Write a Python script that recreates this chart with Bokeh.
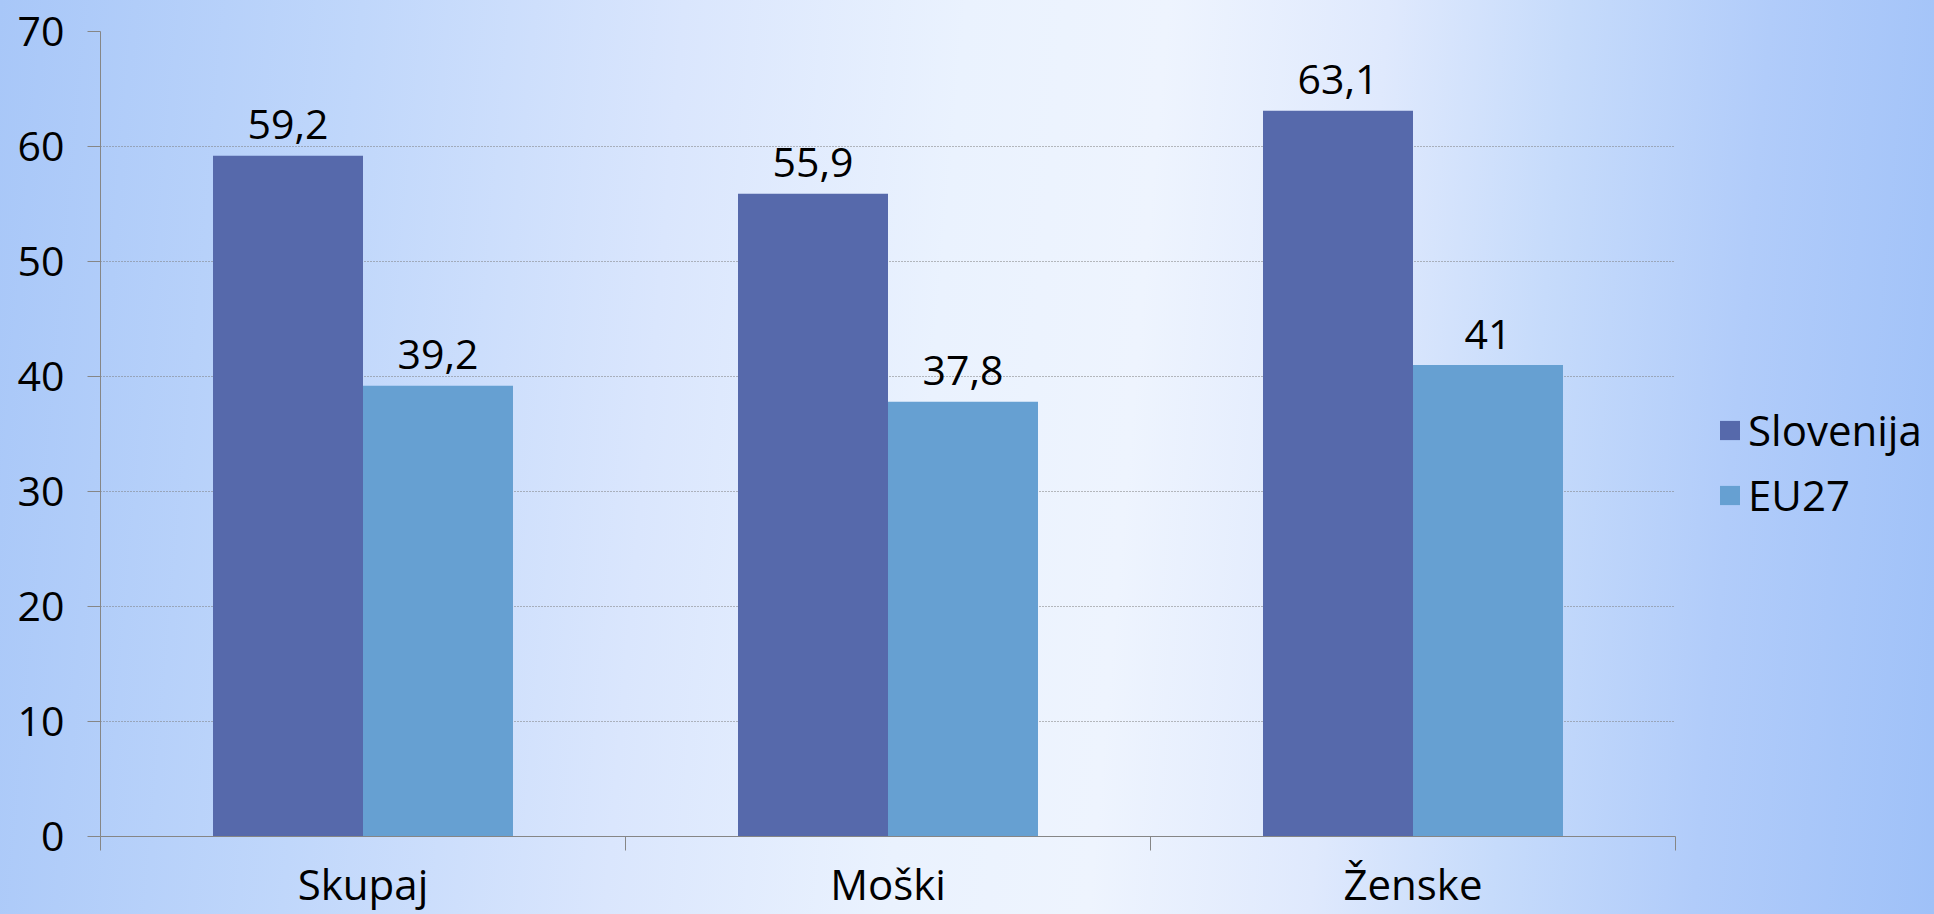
from bokeh.plotting import figure
from bokeh.models import (ColumnDataSource, Range1d, FixedTicker, Legend, LegendItem,
                          GlobalInlineStyleSheet)
from bokeh.transform import dodge
from bokeh.core.properties import value
from bokeh.embed import file_html
from bokeh.resources import INLINE

# ---- data ----
categories = ["Skupaj", "Moški", "Ženske"]
series_names = ["Slovenija", "EU27"]
slovenija = [59.2, 55.9, 63.1]
eu27 = [39.2, 37.8, 41.0]
slovenija_labels = ["59,2", "55,9", "63,1"]
eu27_labels = ["39,2", "37,8", "41"]
y_ticks = [0, 10, 20, 30, 40, 50, 60, 70]

FONT = "Open Sans"
FS = "41px"
FS_BIG = "42px"
SLO_COLOR = "#5669ab"
EU_COLOR = "#66a0d2"
AXIS_COLOR = "#868686"

W, H = 1934, 914
LEFT, TOP, BOTTOM = 100, 31, 78
AXIS_PX = 1575                      # pixel length of the category axis
FRAME_PX = W - LEFT                 # frame extends to the right edge (legend lives there)
n = len(categories)
x_end = n * FRAME_PX / AXIS_PX

pos = [i + 0.5 for i in range(n)]
bounds = [float(i) for i in range(n + 1)]

src = ColumnDataSource(dict(x=pos, cat=categories, slo=slovenija, eu=eu27,
                            slo_lab=slovenija_labels, eu_lab=eu27_labels))

p = figure(width=W, height=H,
           x_range=Range1d(0, x_end), y_range=Range1d(0, 70),
           output_backend="svg", toolbar_location=None,
           min_border_left=LEFT, min_border_right=0,
           min_border_top=TOP, min_border_bottom=BOTTOM)

p.border_fill_alpha = 0
p.background_fill_alpha = 0
p.outline_line_color = None

bg = ("linear-gradient(95deg, #a8c7f8 0%, #c0d7fb 18%, #dae6fd 34%, #eaf2fe 48%, "
      "#eef4fe 58%, #dfe9fd 69%, #c6dbfb 78%, #b1ccfa 88%, #9fc1f8 100%)")
p.stylesheets = [GlobalInlineStyleSheet(
    css="html,body{margin:0;padding:0;overflow:hidden;width:100%;height:100%;background:" + bg + ";}")]

bw = 0.2857
r1 = p.vbar(x=dodge("x", -bw / 2, range=p.x_range), top="slo", width=bw, bottom=0,
            source=src, fill_color=SLO_COLOR, line_color=None)
r2 = p.vbar(x=dodge("x", bw / 2, range=p.x_range), top="eu", width=bw, bottom=0,
            source=src, fill_color=EU_COLOR, line_color=None)

p.text(x=dodge("x", -bw / 2, range=p.x_range), y="slo", text="slo_lab", source=src,
       text_align="center", text_baseline="alphabetic", y_offset=-31,
       text_font=value(FONT), text_font_size=FS, text_color="#000000")
p.text(x=dodge("x", bw / 2, range=p.x_range), y="eu", text="eu_lab", source=src,
       text_align="center", text_baseline="alphabetic", y_offset=-31,
       text_font=value(FONT), text_font_size=FS, text_color="#000000")

# x axis: category labels at centers, tick marks at boundaries
xa = p.xaxis[0]
xa.bounds = (0, n)
xa.ticker = FixedTicker(ticks=pos, minor_ticks=bounds)
xa.major_label_overrides = {pv: c for pv, c in zip(pos, categories)}
xa.major_tick_out = 0
xa.major_tick_in = 0
xa.minor_tick_out = 14
xa.minor_tick_in = 0
xa.minor_tick_line_color = AXIS_COLOR
xa.axis_line_color = AXIS_COLOR
xa.major_label_text_font = FONT
xa.major_label_text_font_size = FS_BIG
xa.major_label_text_color = "#000000"
xa.major_label_standoff = 4

ya = p.yaxis[0]
ya.ticker = FixedTicker(ticks=y_ticks)
ya.major_tick_out = 13
ya.major_tick_in = 0
ya.minor_tick_out = 0
ya.minor_tick_in = 0
ya.major_tick_line_color = AXIS_COLOR
ya.axis_line_color = AXIS_COLOR
ya.major_label_text_font = FONT
ya.major_label_text_font_size = FS
ya.major_label_text_color = "#000000"
ya.major_label_standoff = 23

p.xgrid.visible = False
p.ygrid.ticker = FixedTicker(ticks=y_ticks)
p.ygrid.cross_bounds = (0, n)
p.ygrid.grid_line_color = "#7a7a7a"
p.ygrid.grid_line_dash = "1 2"
p.ygrid.grid_line_width = 1

legend = Legend(items=[LegendItem(label=series_names[0], renderers=[r1]),
                       LegendItem(label=series_names[1], renderers=[r2])],
                location=(1617, 313))
legend.glyph_width = 25
legend.glyph_height = 24
legend.label_standoff = 6
legend.spacing = 8
legend.padding = 0
legend.margin = 0
legend.border_line_color = None
legend.background_fill_alpha = 0
legend.label_text_font = FONT
legend.label_text_font_size = FS_BIG
legend.label_text_color = "#000000"
p.add_layout(legend)

open("out.html", "w").write(file_html(p, INLINE))
